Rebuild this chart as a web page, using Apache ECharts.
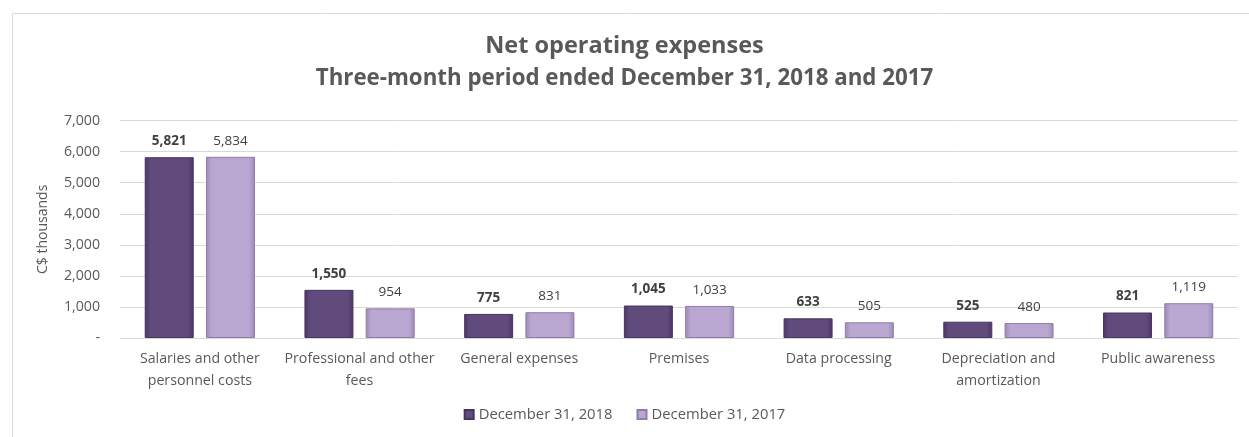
<!DOCTYPE html>
<html>
<head>
<meta charset="utf-8">
<script src="https://cdn.jsdelivr.net/npm/echarts@6/dist/echarts.min.js"></script>
<style>
html,body{margin:0;padding:0;background:#fff;}
#c{width:1249px;height:437px;}
</style>
</head>
<body>
<div id="c"></div>
<script>
const categories = [
  "Salaries and other\npersonnel costs",
  "Professional and other\nfees",
  "General expenses",
  "Premises",
  "Data processing",
  "Depreciation and\namortization",
  "Public awareness"
];
const series2018 = [5821, 1550, 775, 1045, 633, 525, 821];
const series2017 = [5834, 954, 831, 1033, 505, 480, 1119];
const seriesNames = ["December 31, 2018", "December 31, 2017"];
const titleText = "Net operating expenses";
const subtitleText = "Three-month period ended December 31, 2018 and 2017";
const yAxisName = "C$ thousands";

const FONT = '"Open Sans", "Noto Sans", sans-serif';
const chart = echarts.init(document.getElementById('c'));

function grad(edge, mid) {
  return new echarts.graphic.LinearGradient(0, 0, 1, 0, [
    {offset: 0, color: edge},
    {offset: 0.12, color: mid},
    {offset: 0.88, color: mid},
    {offset: 1, color: edge}
  ]);
}
const fmt = v => v.toLocaleString('en-US');

chart.setOption({
  backgroundColor: '#ffffff',
  animation: false,
  graphic: [{
    type: 'rect',
    shape: {x: 12.5, y: 13.5, width: 1300, height: 500},
    style: {fill: 'none', stroke: '#d9d9d9', lineWidth: 1},
    silent: true
  }],
  title: [{
    text: titleText,
    left: 'center',
    top: 29,
    textStyle: {fontFamily: FONT, fontSize: 23.5, fontWeight: 'bold', color: '#595959'}
  }, {
    text: subtitleText,
    left: 'center',
    top: 63,
    textStyle: {fontFamily: FONT, fontSize: 22.3, fontWeight: 'bold', color: '#595959'}
  }],
  legend: {
    bottom: 10,
    left: 'center',
    itemWidth: 9,
    itemHeight: 9,
    itemGap: 24,
    icon: 'rect',
    textStyle: {fontFamily: FONT, fontSize: 14.8, color: '#595959'},
    data: seriesNames
  },
  grid: {left: 120, right: 11, top: 120.6, bottom: 99, containLabel: false},
  xAxis: {
    type: 'category',
    data: categories,
    axisLine: {lineStyle: {color: '#d9d9d9'}},
    axisTick: {show: false},
    axisLabel: {fontFamily: FONT, fontSize: 14.2, color: '#595959', lineHeight: 22, margin: 10, interval: 0}
  },
  yAxis: {
    type: 'value',
    min: 0, max: 7000, interval: 1000,
    name: yAxisName,
    nameLocation: 'middle',
    nameRotate: 90,
    nameGap: 70,
    nameTextStyle: {fontFamily: FONT, fontSize: 14, color: '#595959'},
    axisLine: {show: false},
    axisTick: {show: false},
    splitLine: {lineStyle: {color: '#d9d9d9'}},
    axisLabel: {
      fontFamily: FONT, fontSize: 14.2, color: '#595959', margin: 20,
      formatter: v => v === 0 ? '-' : fmt(v)
    }
  },
  series: [{
    name: seriesNames[0],
    type: 'bar',
    data: series2018,
    barWidth: 49,
    barGap: '25%',
    itemStyle: {color: grad('#4a3863', '#614b7d'), borderColor: '#46355d', borderWidth: 1},
    label: {show: true, position: 'top', distance: 9, fontFamily: FONT, fontSize: 13.5, fontWeight: 'bold', color: '#404040', formatter: p => fmt(p.value)}
  }, {
    name: seriesNames[1],
    type: 'bar',
    data: series2017,
    barWidth: 49,
    itemStyle: {color: grad('#9d89b8', '#b9a7d2'), borderColor: '#8f7ca9', borderWidth: 1},
    label: {show: true, position: 'top', distance: 9, fontFamily: FONT, fontSize: 13.5, color: '#404040', formatter: p => fmt(p.value)}
  }]
});
</script>
</body>
</html>
